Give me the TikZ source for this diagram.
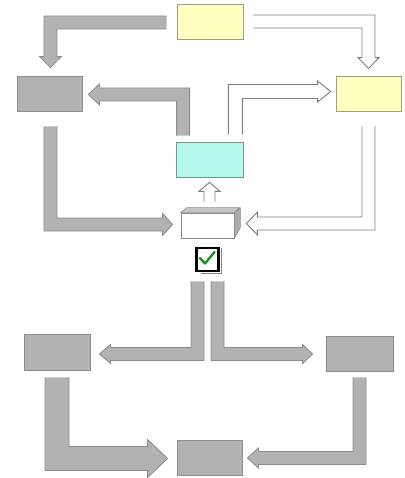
\documentclass[tikz,border=0pt]{standalone}
\usetikzlibrary{calc}
\definecolor{gfill}{RGB}{178,178,178}
\definecolor{gline}{RGB}{140,140,140}
\definecolor{yfill}{RGB}{255,255,192}
\definecolor{yline}{RGB}{165,158,120}
\definecolor{cfill}{RGB}{180,248,236}
\definecolor{cline}{RGB}{120,150,145}
\definecolor{wline}{RGB}{125,125,125}
\definecolor{tickgreen}{RGB}{30,140,40}
\tikzset{
  box/.style={draw=#1, line width=0.8pt, inner sep=0pt},
  gbox/.style={box=gline, fill=gfill},
  ybox/.style={box=yline, fill=yfill},
  cbox/.style={box=cline, fill=cfill},
  garr fill/.style={fill=gfill},
  garr line/.style={draw=gline, line width=0.8pt, line join=miter},
  warr fill/.style={fill=white},
  warr line/.style={draw=wline, line width=0.9pt, line join=miter},
}
% vertical first, then horizontal: style, start, tip, hdir, vdir, half width, head length, head half width
\newcommand\vharrow[8]{%
  \fill[#1 fill] let \p1=(#2), \p2=(#3) in
    ({\x1-(#4)*#6},\y1) -- ({\x1-(#4)*#6},{\y2+(#5)*#6}) -- ({\x2-(#4)*#7},{\y2+(#5)*#6})
    -- ({\x2-(#4)*#7},{\y2+(#5)*#8}) -- (\x2,\y2) -- ({\x2-(#4)*#7},{\y2-(#5)*#8})
    -- ({\x2-(#4)*#7},{\y2-(#5)*#6}) -- ({\x1+(#4)*#6},{\y2-(#5)*#6}) -- ({\x1+(#4)*#6},\y1) -- cycle;
  \draw[#1 line] let \p1=(#2), \p2=(#3) in
    ({\x1-(#4)*#6},\y1) -- ({\x1-(#4)*#6},{\y2+(#5)*#6}) -- ({\x2-(#4)*#7},{\y2+(#5)*#6})
    -- ({\x2-(#4)*#7},{\y2+(#5)*#8}) -- (\x2,\y2) -- ({\x2-(#4)*#7},{\y2-(#5)*#8})
    -- ({\x2-(#4)*#7},{\y2-(#5)*#6}) -- ({\x1+(#4)*#6},{\y2-(#5)*#6}) -- ({\x1+(#4)*#6},\y1);
}
% horizontal first, then vertical
\newcommand\hvarrow[8]{%
  \fill[#1 fill] let \p1=(#2), \p2=(#3) in
    (\x1,{\y1-(#5)*#6}) -- ({\x2+(#4)*#6},{\y1-(#5)*#6}) -- ({\x2+(#4)*#6},{\y2-(#5)*#7})
    -- ({\x2+(#4)*#8},{\y2-(#5)*#7}) -- (\x2,\y2) -- ({\x2-(#4)*#8},{\y2-(#5)*#7})
    -- ({\x2-(#4)*#6},{\y2-(#5)*#7}) -- ({\x2-(#4)*#6},{\y1+(#5)*#6}) -- (\x1,{\y1+(#5)*#6}) -- cycle;
  \draw[#1 line] let \p1=(#2), \p2=(#3) in
    (\x1,{\y1-(#5)*#6}) -- ({\x2+(#4)*#6},{\y1-(#5)*#6}) -- ({\x2+(#4)*#6},{\y2-(#5)*#7})
    -- ({\x2+(#4)*#8},{\y2-(#5)*#7}) -- (\x2,\y2) -- ({\x2-(#4)*#8},{\y2-(#5)*#7})
    -- ({\x2-(#4)*#6},{\y2-(#5)*#7}) -- ({\x2-(#4)*#6},{\y1+(#5)*#6}) -- (\x1,{\y1+(#5)*#6});
}
% straight upward arrow: style, start, tip, half width, head length, head half width
\newcommand\uparrowblk[6]{%
  \fill[#1 fill] let \p1=(#2), \p2=(#3) in
    ({\x1-#4},\y1) -- ({\x1-#4},{\y2-#5}) -- ({\x1-#6},{\y2-#5}) -- (\x1,\y2)
    -- ({\x1+#6},{\y2-#5}) -- ({\x1+#4},{\y2-#5}) -- ({\x1+#4},\y1) -- cycle;
  \draw[#1 line] let \p1=(#2), \p2=(#3) in
    ({\x1-#4},\y1) -- ({\x1-#4},{\y2-#5}) -- ({\x1-#6},{\y2-#5}) -- (\x1,\y2)
    -- ({\x1+#6},{\y2-#5}) -- ({\x1+#4},{\y2-#5}) -- ({\x1+#4},\y1);
}
\begin{document}
\begin{tikzpicture}[x=1pt,y=-1pt]
\useasboundingbox (0,0) rectangle (404,478);
% nodes
\node[ybox, minimum width=66pt, minimum height=35pt] (ty) at (210,21.5) {};
\node[gbox, minimum width=65pt, minimum height=35pt] (lg) at (49.5,93.5) {};
\node[ybox, minimum width=65pt, minimum height=35pt] (ry) at (368.5,93.5) {};
\node[cbox, minimum width=67pt, minimum height=35pt] (cy) at (209.5,159.5) {};
\node[box=gline, fill=white, minimum width=53pt, minimum height=25pt] (bx) at (207.5,225.5) {};
\filldraw[fill=gray!45, draw=gline, line width=0.6pt, line join=round] (bx.north west) -- ++(6,-5) -- ++(53,0) -- (bx.north east) -- cycle;
\filldraw[fill=gray!65, draw=gline, line width=0.6pt, line join=round] (bx.north east) -- ++(6,-5) -- ++(0,20) -- (bx.south east) -- cycle;
\node[draw=black, line width=2.8pt, fill=white, minimum width=22pt, minimum height=23pt, inner sep=0pt] (chk) at (207.5,259.5) {};
\draw[tickgreen!80, line width=1pt] ([xshift=1.4pt,yshift=-1.4pt]chk.north east) -- ([xshift=1.4pt,yshift=-1.4pt]chk.south east) -- ([xshift=6pt,yshift=-1.4pt]chk.south west);
\draw[tickgreen, line width=2.4pt, line cap=round, line join=round] (200,258) -- (205,263.5) -- (214.5,252);
\node[gbox, minimum width=66pt, minimum height=36pt] (lg2) at (57,352) {};
\node[gbox, minimum width=67pt, minimum height=35pt] (rg2) at (359.5,353.5) {};
\node[gbox, minimum width=65pt, minimum height=35pt] (bt) at (209.5,457.5) {};
% connectors
\hvarrow{garr}{[xshift=-10pt,yshift=-1pt]ty.west}{[xshift=1pt,yshift=8pt]lg.north}{-1}{-1}{6.5pt}{11pt}{11pt}
\hvarrow{warr}{[xshift=10pt]ty.east}{[yshift=7pt]ry.north}{1}{-1}{6.5pt}{11pt}{10.5pt}
\vharrow{garr}{[xshift=7.5pt,yshift=6pt]cy.north west}{[xshift=6pt,yshift=-1pt]lg.east}{-1}{1}{6.5pt}{11pt}{10.5pt}
\vharrow{warr}{[xshift=-8pt,yshift=7pt]cy.north east}{[xshift=-5pt,yshift=2pt]ry.west}{1}{1}{7pt}{13pt}{10.5pt}
\vharrow{garr}{[xshift=1pt,yshift=-15pt]lg.south}{[xshift=-8pt,yshift=1pt]bx.west}{1}{-1}{6.5pt}{10pt}{11pt}
\vharrow{warr}{[yshift=-15pt]ry.south}{[xshift=12pt,yshift=2pt]bx.east}{-1}{-1}{6.5pt}{11pt}{11.5pt}
\uparrowblk{warr}{[xshift=2pt,yshift=11pt]bx.north}{[yshift=-5pt]cy.south}{5.5pt}{9pt}{10.5pt}
\vharrow{garr}{[xshift=-10pt,yshift=-9pt]chk.south}{[xshift=9pt,yshift=-2pt]lg2.east}{-1}{-1}{6.5pt}{11pt}{9.5pt}
\vharrow{garr}{[xshift=10pt,yshift=-9pt]chk.south}{[xshift=-13pt,yshift=-0.5pt]rg2.west}{1}{-1}{6.5pt}{10pt}{9.5pt}
\vharrow{garr}{[yshift=-7pt]lg2.south}{[xshift=-9pt,yshift=-1pt]bt.west}{1}{-1}{12pt}{20pt}{19pt}
\vharrow{garr}{[yshift=-6pt]rg2.south}{[xshift=5pt,yshift=-0.5pt]bt.east}{-1}{-1}{6.5pt}{11pt}{10pt}
\end{tikzpicture}
\end{document}
